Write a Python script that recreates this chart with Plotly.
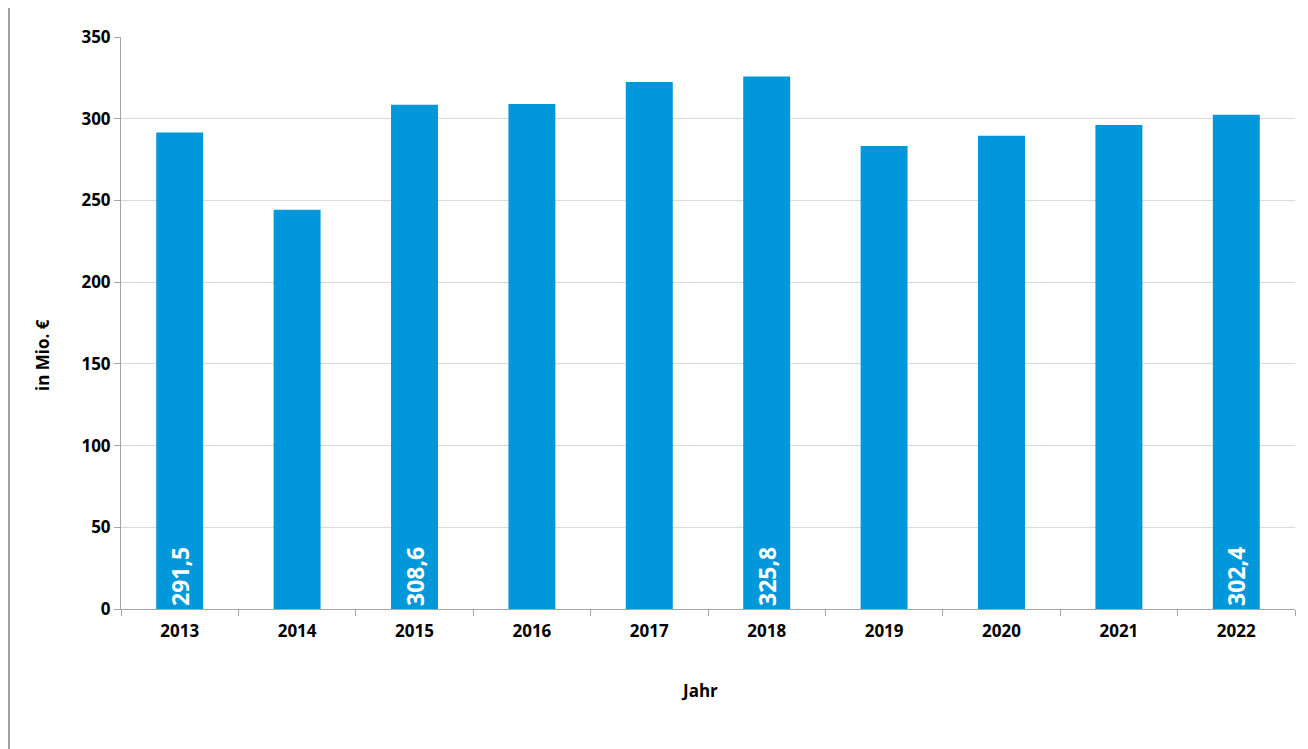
import plotly.graph_objects as go

years = ["2013", "2014", "2015", "2016", "2017", "2018", "2019", "2020", "2021", "2022"]
values = [291.5, 244.3, 308.6, 309.0, 322.5, 325.8, 283.3, 289.5, 296.2, 302.4]
labels = ["291,5", "", "308,6", "", "", "325,8", "", "", "", "302,4"]
y_ticks = [0, 50, 100, 150, 200, 250, 300, 350]

# page has an 8px body offset; figure placed accordingly
W, H = 1300, 741
L, R, T, B = 113, 13, 29, 140
pw = W - L - R
ph = H - T - B

fig = go.Figure(go.Bar(
    x=years, y=values, text=labels,
    textposition="inside", insidetextanchor="start", textangle=-90,
    textfont=dict(family="Open Sans", size=23, color="white", weight="bold"),
    marker=dict(color="#0098DA", line=dict(width=0)),
    width=0.4, cliponaxis=False, hoverinfo="x+y",
))

fig.update_layout(
    width=W, height=H,
    margin=dict(l=L, r=R, t=T, b=B),
    paper_bgcolor="white", plot_bgcolor="white",
    showlegend=False,
    font=dict(family="Open Sans", color="black"),
    xaxis=dict(
        type="category", tickson="boundaries", ticks="outside", ticklen=6,
        tickcolor="#a6a6a6", showline=True, linecolor="#a6a6a6", linewidth=1,
        showgrid=False, ticklabelstandoff=7,
        tickfont=dict(size=17, weight="bold", family="Open Sans"),
    ),
    yaxis=dict(
        range=[0, 350], tickvals=y_ticks, ticks="outside", ticklen=6,
        tickcolor="#a6a6a6", showline=True, linecolor="#a6a6a6", linewidth=1,
        gridcolor="#d9d9d9", gridwidth=1, zeroline=False,
        tickfont=dict(size=17, weight="bold", family="Open Sans"),
    ),
    annotations=[
        dict(text="in Mio. €", xref="paper", yref="paper",
             x=(42 - 121) / pw, y=(601 - 347) / ph, textangle=-90,
             showarrow=False, xanchor="center", yanchor="middle",
             font=dict(size=17, weight="bold", family="Open Sans")),
        dict(text="Jahr", xref="paper", yref="paper",
             x=(699 - 121) / pw, y=(601 - 682) / ph,
             showarrow=False, xanchor="center", yanchor="middle",
             font=dict(size=17, weight="bold", family="Open Sans")),
    ],
    shapes=[
        dict(type="line", xref="paper", yref="paper",
             x0=(0.5 - L) / pw, x1=(0.5 - L) / pw, y0=-B / ph, y1=1 + T / ph,
             line=dict(color="#a0a0a0", width=3)),
        dict(type="line", xref="paper", yref="paper",
             x0=(1298 - L) / pw, x1=(1298 - L) / pw, y0=-B / ph, y1=1 + T / ph,
             line=dict(color="#eeeeee", width=2)),
    ],
)

fig.write_html("out.html")
